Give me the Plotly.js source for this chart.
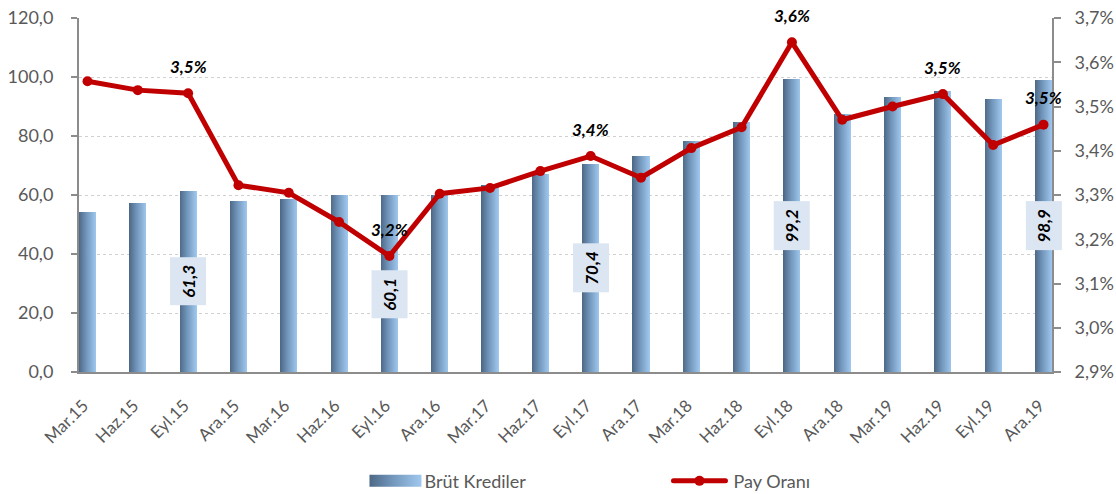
<!DOCTYPE html>
<html>
<head>
<meta charset="utf-8">
<script src="https://cdn.plot.ly/plotly-3.0.1.min.js"></script>
<style>
  html, body { margin: 0; padding: 0; background: #ffffff; }
  #chart { width: 1116px; height: 494px; }
</style>
</head>
<body>
<div id="chart"></div>
<script>
// ---- data ----
const categories = ["Mar.15","Haz.15","Eyl.15","Ara.15","Mar.16","Haz.16","Eyl.16","Ara.16","Mar.17","Haz.17",
                    "Eyl.17","Ara.17","Mar.18","Haz.18","Eyl.18","Ara.18","Mar.19","Haz.19","Eyl.19","Ara.19"];
const brutKrediler = [54.2, 57.3, 61.3, 58.0, 58.6, 60.0, 60.1, 59.9, 63.4, 67.2,
                      70.4, 73.2, 78.3, 84.7, 99.2, 87.5, 93.2, 95.4, 92.5, 98.9];
const payOrani = [3.557, 3.537, 3.530, 3.322, 3.305, 3.239, 3.162, 3.303, 3.316, 3.354,
                  3.388, 3.339, 3.406, 3.453, 3.645, 3.470, 3.500, 3.528, 3.413, 3.459];
const barLabelIdx = [2, 6, 10, 14, 19];
const lineLabelIdx = [2, 6, 10, 14, 17, 19];
const seriesNames = ["Brüt Krediler", "Pay Oranı"];

// ---- styles ----
const GRAY = "#595959";
const AXIS = "#8c8c8c";
const FONT = "Lato, 'Open Sans', sans-serif";
const barLabelShift = {6: -11};

const fmt1 = v => v.toFixed(1).replace(".", ",");

const traces = [
  {
    type: "bar", name: seriesNames[0], x: categories, y: brutKrediler,
    width: 0.34, marker: { color: "#7396bb", line: { width: 0 } },
    xaxis: "x", yaxis: "y", hoverinfo: "skip"
  },
  {
    type: "scatter", mode: "lines+markers", name: seriesNames[1], x: categories, y: payOrani,
    line: { color: "#c00000", width: 5 }, marker: { color: "#c00000", size: 10 },
    xaxis: "x", yaxis: "y2", hoverinfo: "skip"
  }
];

const annotations = [];
barLabelIdx.forEach(i => {
  annotations.push({
    x: categories[i], y: brutKrediler[i] / 2, xref: "x", yref: "y",
    text: fmt1(brutKrediler[i]), showarrow: false, textangle: -90,
    bgcolor: "#dce6f2", borderpad: 7, yshift: barLabelShift[i] || 0,
    font: { family: FONT, size: 17, color: "#000000", weight: 700, style: "italic" }
  });
});
lineLabelIdx.forEach(i => {
  annotations.push({
    x: categories[i], y: payOrani[i], xref: "x", yref: "y2",
    text: fmt1(payOrani[i]) + "%", showarrow: false, yshift: 27,
    font: { family: FONT, size: 17, color: "#000000", weight: 700, style: "italic" }
  });
});

const tickIdx = categories.map((c, i) => i);

const layout = {
  width: 1116, height: 494,
  margin: { l: 79, r: 64, t: 18, b: 122, pad: 0 },
  paper_bgcolor: "#ffffff", plot_bgcolor: "#ffffff",
  separators: ",.",
  font: { family: FONT, color: GRAY, size: 16 },
  showlegend: true,
  legend: {
    orientation: "h", xref: "container", yref: "container",
    x: 0.3248, y: 0.026, xanchor: "left", yanchor: "middle",
    entrywidth: 242, entrywidthmode: "pixels", itemwidth: 52,
    font: { family: FONT, size: 18, color: GRAY }, bgcolor: "rgba(0,0,0,0)"
  },
  xaxis: {
    type: "category", range: [-0.169, 19.169], tickangle: -45,
    showline: true, linecolor: AXIS, linewidth: 2, ticks: "",
    showgrid: false, zeroline: false, ticklabelstandoff: 15, ticklabelshift: -4,
    tickfont: { family: FONT, size: 17, color: GRAY }
  },
  xaxis2: {
    overlaying: "x", anchor: "y", side: "bottom", type: "linear",
    range: [0, 19.338], tickvals: tickIdx, showticklabels: false,
    ticks: "outside", ticklen: 6, tickcolor: AXIS, tickwidth: 2,
    showline: false, showgrid: false, zeroline: false
  },
  yaxis: {
    range: [0, 120], dtick: 20, tick0: 0, tickformat: ".1f",
    showline: true, linecolor: AXIS, linewidth: 2,
    ticks: "outside", ticklen: 6, tickcolor: AXIS, tickwidth: 2,
    showgrid: true, gridcolor: "#d0d0d0", griddash: "dot", gridwidth: 1,
    zeroline: false, ticklabelstandoff: 14,
    tickfont: { family: FONT, size: 18, color: GRAY }
  },
  yaxis2: {
    overlaying: "y", side: "right", anchor: "x",
    range: [2.9, 3.7], dtick: 0.1, tick0: 2.9, tickformat: ".1f", ticksuffix: "%",
    showline: true, linecolor: AXIS, linewidth: 2,
    ticks: "outside", ticklen: 7, tickcolor: AXIS, tickwidth: 2,
    showgrid: false, zeroline: false, ticklabelstandoff: 10,
    tickfont: { family: FONT, size: 18, color: GRAY }
  },
  annotations: annotations,
  bargap: 0
};

const gd = document.getElementById("chart");
Plotly.newPlot(gd, traces, layout, { displayModeBar: false, staticPlot: true }).then(() => {
  const NS = "http://www.w3.org/2000/svg";
  const svg = gd.querySelector("svg.main-svg");
  let defs = svg.querySelector("defs");
  if (!defs) { defs = document.createElementNS(NS, "defs"); svg.insertBefore(defs, svg.firstChild); }
  const grad = document.createElementNS(NS, "linearGradient");
  grad.setAttribute("id", "barGrad");
  grad.setAttribute("x1", "0"); grad.setAttribute("y1", "0");
  grad.setAttribute("x2", "1"); grad.setAttribute("y2", "0");
  [["0", "#4d6886"], ["0.45", "#7397bd"], ["1", "#a0c8ee"]].forEach(s => {
    const st = document.createElementNS(NS, "stop");
    st.setAttribute("offset", s[0]); st.setAttribute("stop-color", s[1]);
    grad.appendChild(st);
  });
  defs.appendChild(grad);
  gd.querySelectorAll(".barlayer .point path").forEach(p => { p.style.fill = "url(#barGrad)"; });

  // legend swatches
  const items = gd.querySelectorAll(".legend .traces");
  if (items.length >= 2) {
    const barSym = items[0].querySelector(".legendpoints path");
    if (barSym) {
      barSym.setAttribute("d", "M0,-6h52v12h-52Z");
      barSym.setAttribute("transform", "translate(7,0)");
      barSym.style.fill = "url(#barGrad)";
      barSym.style.stroke = "none";
    }
    const lineSym = items[1].querySelector(".legendlines path");
    if (lineSym) {
      lineSym.setAttribute("d", "M2,0h52");
      lineSym.setAttribute("transform", "translate(0,0)");
      lineSym.style.strokeLinecap = "round";
    }
    const mk = items[1].querySelector(".legendpoints path");
    if (mk) mk.setAttribute("transform", "translate(28,0)");
  }
});
</script>
</body>
</html>
